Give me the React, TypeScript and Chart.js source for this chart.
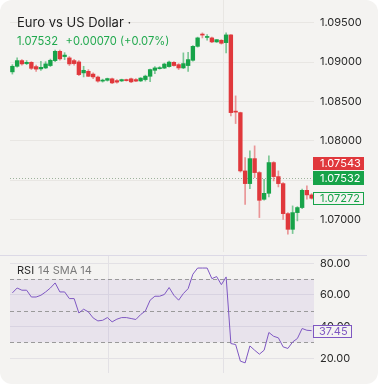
import React, { useEffect, useRef } from "react";
import { Chart, registerables } from "chart.js";

Chart.register(...registerables);

// ---- Data ----
const opens = [
  1.08876, 1.08947, 1.09019, 1.08981, 1.08997, 1.08943, 1.08914, 1.08926, 1.08956, 1.09019,
  1.09137, 1.0907, 1.09053, 1.09019, 1.09002, 1.08863, 1.08883, 1.08848, 1.0881, 1.08759,
  1.08769, 1.08788, 1.08765, 1.08761, 1.08778, 1.08788, 1.08778, 1.08761, 1.08778, 1.0882,
  1.08896, 1.08917, 1.08924, 1.08943, 1.08997, 1.08968, 1.08926, 1.08956, 1.09023, 1.092,
  1.09355, 1.09313, 1.09307, 1.09256, 1.09277, 1.09247, 1.09345, 1.08372, 1.08359, 1.07619,
  1.07458, 1.07775, 1.07598, 1.07259, 1.07335, 1.07725, 1.07547, 1.07458, 1.07077, 1.06878,
  1.0709, 1.07154, 1.07373, 1.07315,
];
const highs = [
  1.08968, 1.09053, 1.09032, 1.09019, 1.09006, 1.08962, 1.0901, 1.09006, 1.09038, 1.09152,
  1.09152, 1.0912, 1.0907, 1.09035, 1.09019, 1.08947, 1.08905, 1.08863, 1.08822, 1.08784,
  1.08797, 1.08797, 1.08778, 1.08784, 1.08784, 1.08797, 1.08791, 1.08803, 1.08835, 1.08911,
  1.08943, 1.08943, 1.08987, 1.09013, 1.09006, 1.08981, 1.09117, 1.09124, 1.09209, 1.09317,
  1.09371, 1.09349, 1.09317, 1.09285, 1.09285, 1.09371, 1.09349, 1.08571, 1.08365, 1.07788,
  1.07873, 1.07937, 1.0761, 1.07513, 1.0781, 1.07737, 1.07619, 1.07471, 1.0709, 1.07175,
  1.07166, 1.07388, 1.07429, 1.07331,
];
const lows = [
  1.08848, 1.08936, 1.08962, 1.08968, 1.08905, 1.08883, 1.08896, 1.08917, 1.08943, 1.09006,
  1.09023, 1.09032, 1.08956, 1.08962, 1.08829, 1.08812, 1.08816, 1.08791, 1.08746, 1.08746,
  1.08759, 1.08727, 1.08733, 1.08753, 1.08759, 1.0874, 1.08753, 1.08753, 1.08759, 1.08753,
  1.08854, 1.08911, 1.08917, 1.08936, 1.08949, 1.08905, 1.08917, 1.08883, 1.09013, 1.0919,
  1.09307, 1.09277, 1.09247, 1.0925, 1.09228, 1.09117, 1.08317, 1.0822, 1.07604, 1.07195,
  1.07395, 1.07534, 1.07027, 1.07249, 1.07289, 1.07492, 1.07416, 1.07005, 1.06815, 1.06824,
  1.06985, 1.07141, 1.07261, 1.07261,
];
const closes = [
  1.08947, 1.09019, 1.08977, 1.08997, 1.08921, 1.08911, 1.08934, 1.08977, 1.09023, 1.09137,
  1.09041, 1.09089, 1.08977, 1.08981, 1.08841, 1.08896, 1.0882, 1.08812, 1.08759, 1.08769,
  1.08791, 1.08736, 1.08746, 1.08778, 1.08765, 1.08749, 1.08759, 1.08797, 1.08822, 1.08905,
  1.08926, 1.0893, 1.08975, 1.09, 1.08956, 1.08926, 1.08981, 1.09032, 1.092, 1.09307,
  1.09343, 1.09324, 1.09256, 1.09285, 1.09239, 1.09345, 1.08359, 1.08365, 1.07619, 1.07458,
  1.07775, 1.07598, 1.07246, 1.07335, 1.07725, 1.07547, 1.07458, 1.07077, 1.06878, 1.0709,
  1.07154, 1.07373, 1.07315, 1.07272,
];
const rsiValues = [
  61.3, 64.4, 63.0, 63.0, 58.7, 58.7, 59.8, 61.9, 64.4, 67.6,
  61.9, 61.9, 57.7, 57.7, 48.6, 51.0, 49.3, 45.5, 43.6, 44.0,
  45.7, 43.0, 44.7, 45.7, 45.7, 45.1, 44.5, 47.6, 49.9, 56.7,
  59.2, 59.2, 60.3, 64.7, 59.8, 56.7, 60.9, 64.0, 73.1, 77.0,
  77.0, 77.0, 70.3, 71.6, 66.5, 71.4, 29.3, 28.7, 18.2, 17.1,
  27.8, 25.1, 22.6, 25.1, 36.3, 33.9, 32.9, 27.2, 26.2, 30.3,
  32.5, 38.8, 37.7, 37.45,
];
const candleLabels = opens.map((_, i) => String(i));
const priceTicks = [1.07, 1.075, 1.08, 1.085, 1.09, 1.095];
const rsiTicks = [20, 40, 60, 80];
const rsiLevels = [30, 50, 70];
const rsiBand = [30, 70];
const priceMin = 1.065901;
const priceMax = 1.097881;
const rsiMin = 10.7;
const rsiMax = 85.24;
const lastPrice = 1.07532;
const askPrice = 1.07543;
const markerPrice = 1.07272;
const lastRsi = 37.45;
const priceChange = "+0.00070";
const priceChangePct = "+0.07%";
const titleText = "Euro vs US Dollar ·";
const mainVGrid = [44.3];
const rsiVGrid = [20.2, 44.3];

// ---- Styles ----
const FONT = "Inter, Roboto, 'Noto Sans', sans-serif";
const CARD = "#f4f3f1";
const UP = "#17a349";
const DOWN = "#e0383c";
const UP_WICK = "rgba(23,163,73,0.55)";
const DOWN_WICK = "rgba(224,56,60,0.5)";
const GRID = "#e8e6e3";
const TEXT = "#2a2a2a";
const PURPLE = "#7e57c2";

function fracX(xs: any, v: number) {
  const i = Math.floor(v);
  const step = xs.getPixelForValue(1) - xs.getPixelForValue(0);
  return xs.getPixelForValue(i) + (v - i) * step;
}

export default function App() {
  const priceRef = useRef<HTMLCanvasElement>(null);
  const rsiRef = useRef<HTMLCanvasElement>(null);

  useEffect(() => {
    document.body.style.margin = "0";
    document.body.style.background = "#ffffff";

    const isUp = closes.map((c, i) => c >= opens[i]);

    const overlay1 = {
      id: "overlay1",
      beforeDatasetsDraw(chart: any) {
        const { ctx, chartArea: a, scales } = chart;
        ctx.save();
        ctx.strokeStyle = GRID;
        ctx.lineWidth = 1;
        mainVGrid.forEach((v) => {
          const x = Math.round(fracX(scales.x, v)) + 0.5;
          ctx.beginPath();
          ctx.moveTo(x, a.top);
          ctx.lineTo(x, a.bottom);
          ctx.stroke();
        });
        const ly = Math.round(scales.y.getPixelForValue(lastPrice)) + 0.5;
        ctx.setLineDash([1, 2]);
        ctx.strokeStyle = "rgba(120,150,120,0.7)";
        ctx.beginPath();
        ctx.moveTo(a.left, ly);
        ctx.lineTo(a.right, ly);
        ctx.stroke();
        ctx.restore();
      },
      afterDraw(chart: any) {
        const { ctx, chartArea: a, scales } = chart;
        const ys = scales.y;
        ctx.save();
        const boxX = a.right - 1;
        const boxW = 51;
        const box = (top: number, h: number, text: string, fill: string | null, stroke: string | null, color: string) => {
          if (fill) {
            ctx.fillStyle = fill;
            ctx.fillRect(boxX, top, boxW, h);
          }
          if (stroke) {
            ctx.strokeStyle = stroke;
            ctx.lineWidth = 1;
            ctx.strokeRect(boxX + 0.5, top + 0.5, boxW - 1, h - 1);
          }
          ctx.fillStyle = color;
          ctx.font = `11px ${FONT}`;
          ctx.textAlign = "left";
          ctx.textBaseline = "middle";
          ctx.fillText(text, boxX + 7, top + h / 2 + 0.5);
        };
        const gTop = Math.round(ys.getPixelForValue(lastPrice) - 7);
        box(gTop, 14, lastPrice.toFixed(5), UP, null, "#ffffff");
        box(gTop - 14, 13, askPrice.toFixed(5), DOWN, null, "#ffffff");
        const mTop = Math.round(ys.getPixelForValue(markerPrice) - 6.5);
        box(mTop, 13, markerPrice.toFixed(5), CARD, UP, UP);

        // header
        ctx.textAlign = "left";
        ctx.textBaseline = "alphabetic";
        ctx.fillStyle = "#1e1e1e";
        ctx.font = `13px ${FONT}`;
        ctx.fillText(titleText, 17, 27);
        ctx.fillStyle = "#22a94f";
        ctx.font = `11.2px ${FONT}`;
        ctx.fillText(lastPrice.toFixed(5), 17, 45);
        ctx.fillText(`${priceChange} (${priceChangePct})`, 65.5, 45);
        ctx.restore();
      },
    };

    const c1 = new Chart(priceRef.current as HTMLCanvasElement, {
      type: "bar",
      data: {
        labels: candleLabels,
        datasets: [
          {
            data: lows.map((l, i) => [l, highs[i]]) as any,
            backgroundColor: isUp.map((u) => (u ? UP_WICK : DOWN_WICK)),
            barThickness: 1,
            grouped: false,
            order: 2,
            borderWidth: 0,
          } as any,
          {
            data: opens.map((o, i) => [o, closes[i]]) as any,
            backgroundColor: isUp.map((u) => (u ? UP : DOWN)),
            barThickness: 3.7,
            grouped: false,
            order: 1,
            borderWidth: 0,
            minBarLength: 1,
          } as any,
        ],
      },
      options: {
        animation: false,
        responsive: false,
        maintainAspectRatio: false,
        layout: { padding: { left: 10, right: 0, top: 0, bottom: 0 } },
        plugins: { legend: { display: false }, tooltip: { enabled: false } },
        scales: {
          x: { type: "category", display: false, offset: true, grid: { display: false } },
          y: {
            position: "right",
            min: priceMin,
            max: priceMax,
            afterBuildTicks: (s: any) => {
              s.ticks = priceTicks.map((v) => ({ value: v }));
            },
            afterFit: (s: any) => {
              s.width = 64;
              s.paddingTop = 0;
              s.paddingBottom = 0;
            },
            grid: { color: GRID, drawTicks: false },
            border: { display: false },
            ticks: {
              padding: 6,
              color: TEXT,
              font: { family: FONT, size: 11 },
              callback: (v: any) => Number(v).toFixed(5),
            },
          },
        },
      } as any,
      plugins: [overlay1],
    });

    const overlay2 = {
      id: "overlay2",
      beforeDatasetsDraw(chart: any) {
        const { ctx, chartArea: a, scales } = chart;
        const ys = scales.y;
        ctx.save();
        ctx.strokeStyle = "#e3e1e5";
        ctx.lineWidth = 1;
        rsiVGrid.forEach((v) => {
          const x = Math.round(fracX(scales.x, v)) + 0.5;
          ctx.beginPath();
          ctx.moveTo(x, a.top);
          ctx.lineTo(x, a.bottom);
          ctx.stroke();
        });
        const yTop = ys.getPixelForValue(rsiBand[1]);
        const yBot = ys.getPixelForValue(rsiBand[0]);
        ctx.fillStyle = "rgba(126,87,194,0.1)";
        ctx.fillRect(a.left, yTop, a.right - a.left, yBot - yTop);
        ctx.setLineDash([4, 3]);
        ctx.strokeStyle = "#9a9a9a";
        rsiLevels.forEach((lv) => {
          const y = Math.round(ys.getPixelForValue(lv)) + 0.5;
          ctx.beginPath();
          ctx.moveTo(a.left, y);
          ctx.lineTo(a.right, y);
          ctx.stroke();
        });
        ctx.setLineDash([]);
        ctx.strokeStyle = "#dcd9e6";
        ctx.beginPath();
        ctx.moveTo(0, a.top + 0.5);
        ctx.lineTo(367, a.top + 0.5);
        ctx.stroke();
        ctx.restore();
      },
      afterDraw(chart: any) {
        const { ctx, chartArea: a, scales } = chart;
        const ys = scales.y;
        ctx.save();
        ctx.textAlign = "left";
        ctx.textBaseline = "alphabetic";
        ctx.font = `11px ${FONT}`;
        ctx.fillStyle = TEXT;
        ctx.fillText("RSI", 17, 22);
        ctx.fillStyle = "#7a7a7a";
        ctx.fillText("14 SMA 14", 38, 22);
        const top = Math.round(ys.getPixelForValue(lastRsi) - 6);
        const x0 = a.right - 1;
        const w = 39;
        ctx.fillStyle = CARD;
        ctx.fillRect(x0, top, w, 13);
        ctx.strokeStyle = PURPLE;
        ctx.lineWidth = 1;
        ctx.strokeRect(x0 + 0.5, top + 0.5, w - 1, 12);
        ctx.fillStyle = PURPLE;
        ctx.font = `11px ${FONT}`;
        ctx.textBaseline = "middle";
        ctx.fillText(lastRsi.toFixed(2), x0 + 6, top + 7);
        ctx.restore();
      },
    };

    const c2 = new Chart(rsiRef.current as HTMLCanvasElement, {
      type: "line",
      data: {
        labels: candleLabels,
        datasets: [
          {
            data: rsiValues,
            borderColor: PURPLE,
            borderWidth: 1,
            pointRadius: 0,
            tension: 0,
            fill: false,
          },
        ],
      },
      options: {
        animation: false,
        responsive: false,
        maintainAspectRatio: false,
        layout: { padding: { left: 10, right: 0, top: 3, bottom: 11 } },
        plugins: { legend: { display: false }, tooltip: { enabled: false } },
        scales: {
          x: { type: "category", display: false, offset: true, grid: { display: false } },
          y: {
            position: "right",
            min: rsiMin,
            max: rsiMax,
            afterBuildTicks: (s: any) => {
              s.ticks = rsiTicks.map((v) => ({ value: v }));
            },
            afterFit: (s: any) => {
              s.width = 64;
              s.paddingTop = 0;
              s.paddingBottom = 0;
            },
            grid: { color: "#e3e1e5", drawTicks: false },
            border: { display: false },
            ticks: {
              padding: 6,
              color: TEXT,
              font: { family: FONT, size: 11 },
              callback: (v: any) => Number(v).toFixed(2),
            },
          },
        },
      } as any,
      plugins: [overlay2],
    });

    return () => {
      c1.destroy();
      c2.destroy();
    };
  }, []);

  return (
    <div
      style={{
        position: "relative",
        width: 378,
        height: 384,
        background: CARD,
        borderRadius: 12,
        overflow: "hidden",
      }}
    >
      <canvas ref={priceRef} width={378} height={252} style={{ position: "absolute", left: 0, top: 0 }} />
      <canvas ref={rsiRef} width={378} height={132} style={{ position: "absolute", left: 0, top: 252 }} />
    </div>
  );
}
